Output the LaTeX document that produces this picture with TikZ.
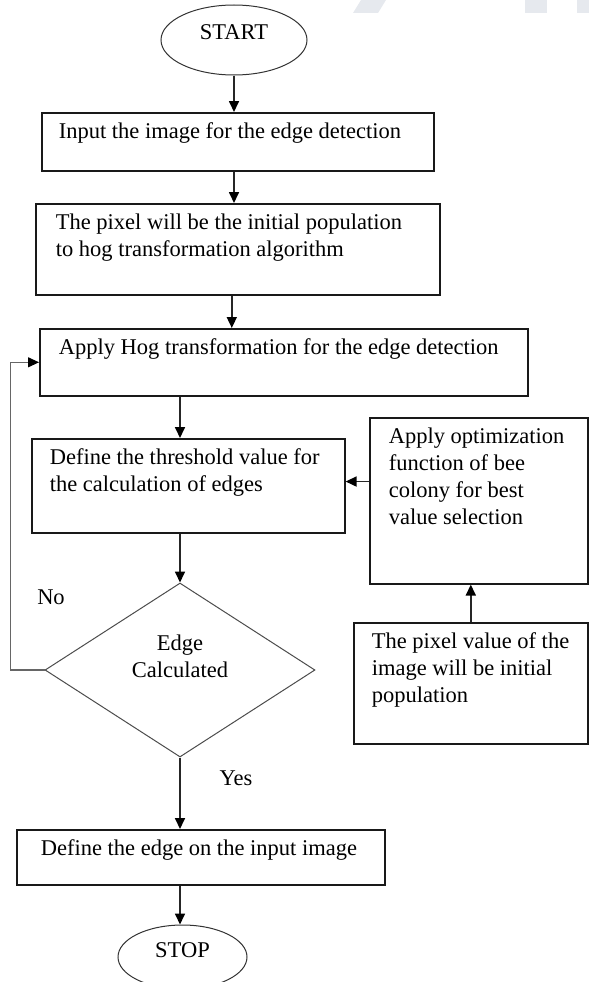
\documentclass[tikz,border=0pt]{standalone}
\usepackage{fontspec}
\setmainfont{Liberation Serif}
\usetikzlibrary{arrows.meta,shapes.geometric,calc}
\definecolor{wmark}{HTML}{E6E9EE}
\newcommand{\boxfont}{\fontsize{22.5}{27}\selectfont}
% box text: [left pad]{width}{height}{lines}
\newcommand{\boxtxt}[4][17]{\hspace*{#1pt}\parbox[t][\dimexpr#3pt-20pt\relax][t]{\dimexpr#2pt-#1pt-3pt\relax}{\raggedright #4}\hspace*{3pt}}

\tikzset{
	procbox/.style={draw=black!90, line width=1.6pt, anchor=north west, inner xsep=0pt, inner ysep=10pt, font=\boxfont},
	term/.style={draw=black!80, ellipse, line width=1pt, inner sep=0pt, text height=12pt, text depth=12pt, font=\boxfont},
	decide/.style={draw=black!70, diamond, line width=1pt, minimum width=270pt, minimum height=174pt, inner sep=0pt, align=center, font=\boxfont},
	flow/.style={-{Triangle[length=11pt,width=10pt,color=black]}, line width=1.7pt, draw=black!85},
	lbl/.style={font=\boxfont, inner sep=0pt},
}

\begin{document}
\begin{tikzpicture}[x=1pt,y=-1pt]
		\useasboundingbox (0,0) rectangle (589,982);
		
		% faint watermark at the top
		\fill[wmark] (361,0) -- (386,0) -- (378,13) -- (353,13) -- cycle;
		\fill[wmark] (525,0) rectangle (547,13);
		\fill[wmark] (577,0) rectangle (589,13);
		
		\node[term, minimum width=146pt, minimum height=70pt] (start) at (234,40) {START};
		
		\node[procbox] (inp) at (41,112) {\boxtxt{392}{58}{Input the image for the edge detection}};
		\node[procbox] (pix) at (35,203) {\boxtxt[20]{404}{91}{The pixel will be the initial population\\to hog transformation algorithm}};
		\node[procbox] (hog) at (39,328) {\boxtxt[19]{488}{67}{Apply Hog transformation for the edge detection}};
		\node[procbox] (thr) at (31,438) {\boxtxt[18]{313}{94}{Define the threshold value for\\the calculation of edges}};
		\node[procbox] (bee) at (369,417) {\boxtxt[19]{218}{166}{Apply optimization\\function of bee\\colony for best\\value selection}};
		\node[procbox] (init) at (353,622) {\boxtxt[18]{234}{121}{The pixel value of the\\image will be initial\\population}};
		
		\node[decide] (edge) at (180,670) {Edge\\Calculated\\\mbox{}};
		
		\node[procbox] (fin) at (16,829) {\boxtxt[24]{368}{55}{Define the edge on the input image}};
		\node[term, minimum width=129pt, minimum height=64pt] (stop) at (182.5,957) {STOP};
		
		\node[lbl] (nolbl) at (51,597) {No};
		\node[lbl] (yeslbl) at (236,778) {Yes};
		
		% main flow
		\draw[flow] (start) -- (start |- inp.north);
		\draw[flow] (inp.south -| start) -- (pix.north -| start);
		\draw[flow] ($(pix.south)+(-6,0)$) -- ($(pix.south |- hog.north)+(-6,0)$);
		\draw[flow] (hog.south -| edge) -- (thr.north -| edge);
		\draw[flow] (thr.south -| edge) -- (edge.north);
		\draw[flow] (edge.south) -- (edge.south |- fin.north);
		\draw[flow] (fin.south -| edge) -- (stop.north -| edge);
		
		% side branch
		\coordinate (beein) at ($(bee.north west)!0.385!(bee.south west)$);
		\draw[flow] (beein) -- (thr.east |- beein);
		\draw[flow] (init.north) -- (init.north |- bee.south);
		
		% back loop
		\draw[flow, line width=1.1pt, draw=black!60] (edge.west) -- ++(-34,0) |- (hog.west);
	\end{tikzpicture}
\end{document}
